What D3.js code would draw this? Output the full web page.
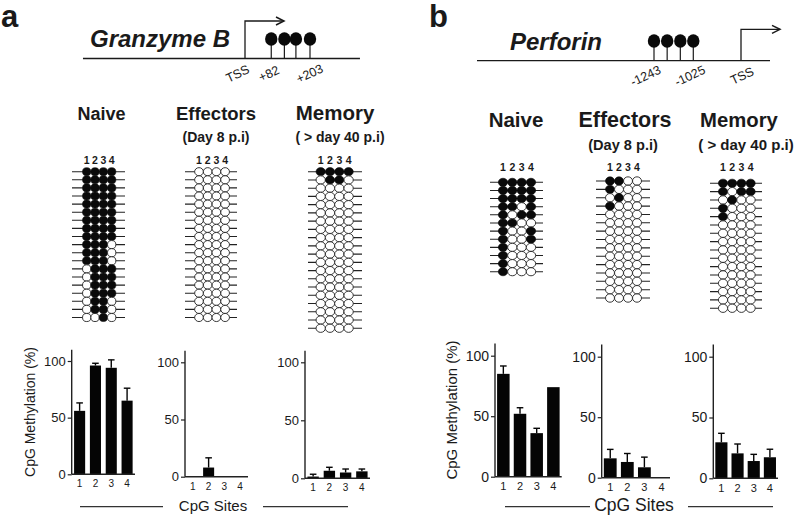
<!DOCTYPE html>
<html><head><meta charset="utf-8">
<script src="https://cdn.jsdelivr.net/npm/d3@7"></script>
<style>
body{margin:0;background:#fff}
svg{display:block}
text{font-family:"Liberation Sans",Arial,Helvetica,sans-serif;fill:#1a1a1a}
</style>
</head><body>
<svg id="c" width="796" height="516"></svg>
<script>
// ---------------- DATA ----------------
const sites = ["1","2","3","4"];
const yTickValues = [0, 50, 100];

// Bar values (% CpG methylation) and error (SEM) per CpG site
const gzmbNaive = [56, 96, 94, 65],   gzmbNaiveErr = [7, 2, 7, 11];
const gzmbEff   = [0, 8, 0, 0],       gzmbEffErr   = [0, 8.5, 0, 0];
const gzmbMem   = [1.5, 6.5, 5, 6],   gzmbMemErr   = [2, 3, 3, 2];
const prfNaive  = [85, 52, 36, 74],   prfNaiveErr  = [6.5, 5, 4, 0];
const prfEff    = [16, 13, 8.6, 0],   prfEffErr    = [7.4, 7, 8.4, 0];
const prfMem    = [29.6, 20.5, 14.2, 17.3], prfMemErr = [7.4, 7.7, 5.5, 6.6];

// Bisulfite clone patterns (1 = methylated, 0 = unmethylated), sites 1..4
const gzmbNaiveRows = ["1111","1111","1111","1111","1111","1111","1111","1111","1111",
  "1110","1110","1110","0111","0111","0111","0111","0110","0110","0010"];
const gzmbEffRows = ["0000","0000","0000","0000","0000","0000","0000","0000","0000","0000",
  "0000","0000","0000","0000","0000","0000","0000","0000","0000"];
const gzmbMemRows = ["1111","0110","0000","0000","0000","0000","0000","0000","0000","0000",
  "0000","0000","0000","0000","0000","0000","0000","0000","0000","0000"];
const prfNaiveRows = ["1111","1111","1111","1101","1011","1100","1001","1001","1000","1000","1000","1000"];
const prfEffRows = ["1100","1000","0100","1000","0000","0000","0000","0000","0000","0000",
  "0000","0000","0000","0000","0000"];
const prfMemRows = ["1111","1011","0100","1000","1000","0000","0000","0000","0000","0000",
  "0000","0000","0000","0000","0000","0000"];

// Gene diagrams (bp relative to TSS)
const gzmbCpgBp = [82, 123, 159, 203];
const gzmbLabels = ["TSS", "+82", "+203"], gzmbLabelBp = [0, 82, 203];
const prfCpgBp = [-1243, -1170, -1097, -1025];
const prfLabels = ["-1243", "-1025", "TSS"], prfLabelBp = [-1243, -1025, 0];

// ---------------- DRAW ----------------
const svg = d3.select("#c");
const INK = "#1a1a1a";

function txt(g, s, x, y, size, opts = {}) {
  return g.append("text").attr("x", x).attr("y", y)
    .attr("font-size", size)
    .attr("font-weight", opts.weight || "normal")
    .attr("font-style", opts.style || "normal")
    .attr("text-anchor", opts.anchor || "middle")
    .text(s);
}

// panel letters
txt(svg, "a", 1, 27, 31, {weight: "bold", anchor: "start"});
txt(svg, "b", 429, 27, 31, {weight: "bold", anchor: "start"});

// gene header
function drawGene(cfg) {
  const g = svg.append("g");
  const x = cfg.scale;
  g.append("line").attr("x1", x(cfg.lineFrom)).attr("x2", x(cfg.lineTo))
    .attr("y1", cfg.lineY).attr("y2", cfg.lineY).attr("stroke", INK).attr("stroke-width", 1.3);
  const tx = x(0);
  g.append("path").attr("d", `M${tx},${cfg.lineY}V${cfg.arrowY}H${tx + 39}`)
    .attr("fill", "none").attr("stroke", INK).attr("stroke-width", 1.3);
  g.append("path").attr("d", `M${tx + 31},${cfg.arrowY - 4}L${tx + 39},${cfg.arrowY}L${tx + 31},${cfg.arrowY + 4}`)
    .attr("fill", "none").attr("stroke", INK).attr("stroke-width", 1.5);
  g.selectAll("line.stem").data(cfg.cpg).enter().append("line")
    .attr("x1", d => x(d)).attr("x2", d => x(d))
    .attr("y1", cfg.popY).attr("y2", cfg.lineY).attr("stroke", INK).attr("stroke-width", 1.2);
  g.selectAll("ellipse").data(cfg.cpg).enter().append("ellipse")
    .attr("cx", d => x(d)).attr("cy", cfg.popY).attr("rx", 6.2).attr("ry", 6.7).attr("fill", "#0a0a0a");
  txt(g, cfg.name, cfg.nameX, cfg.nameY, 24, {weight: "bold", style: "italic", anchor: "start"});
  cfg.labels.forEach((s, i) => {
    const lx = x(cfg.labelBp[i]) + cfg.labelOff[i];
    g.append("text").attr("transform", `translate(${lx},${cfg.lineY + 16}) rotate(-25)`)
      .attr("text-anchor", "middle").attr("dominant-baseline", "middle")
      .attr("font-size", 12.5).text(s);
  });
}

drawGene({
  scale: d3.scaleLinear().domain([0, 203]).range([245, 310]),
  lineFrom: -506, lineTo: 359, lineY: 58.5, arrowY: 21, popY: 39,
  cpg: gzmbCpgBp, name: "Granzyme B", nameX: 90, nameY: 47,
  labels: gzmbLabels, labelBp: gzmbLabelBp, labelOff: [-7, -2, 0]
});
drawGene({
  scale: d3.scaleLinear().domain([-2800, -1243, -1025, 0, 250]).range([477, 654, 693.3, 741, 770]),
  lineFrom: -2800, lineTo: 250, lineY: 60.7, arrowY: 29.3, popY: 41,
  cpg: prfCpgBp, name: "Perforin", nameX: 510, nameY: 50,
  labels: prfLabels, labelBp: prfLabelBp, labelOff: [-8, -3, 1.5]
});

// group titles
function title(t, x, y, fs) { txt(svg, t, x, y, fs, {weight: "bold"}); }
title("Naive", 101.5, 120, 18);
title("Effectors", 216, 120, 18.5);
title("(Day 8 p.i)", 216, 142, 14);
title("Memory", 335, 120, 20.5);
title("( > day 40 p.i)", 340, 142, 14);
title("Naive", 516, 127, 20.5);
title("Effectors", 625, 127, 21.5);
title("(Day 8 p.i)", 623, 150, 14.6);
title("Memory", 739, 127, 20.3);
title("( > day 40 p.i)", 746, 150, 15);

// lollipop grids
function drawGrid(rows, c) {
  const g = svg.append("g");
  const x = d3.scalePoint().domain(sites).range([c.x0, c.x0 + 3 * c.dx]);
  const y = d3.scalePoint().domain(d3.range(rows.length)).range([c.y0, c.y0 + (rows.length - 1) * c.dy]);
  g.selectAll("line").data(rows).enter().append("line")
    .attr("x1", c.l).attr("x2", c.r).attr("y1", (d, i) => y(i)).attr("y2", (d, i) => y(i))
    .attr("stroke", "#222").attr("stroke-width", 1.1);
  const cells = [];
  rows.forEach((r, i) => sites.forEach((s, j) => cells.push({row: i, site: s, m: r[j] === "1"})));
  g.selectAll("ellipse").data(cells).enter().append("ellipse")
    .attr("cx", d => x(d.site)).attr("cy", d => y(d.row))
    .attr("rx", c.dx / 2).attr("ry", c.dy / 2)
    .attr("fill", d => d.m ? "#0a0a0a" : "#fff")
    .attr("stroke", d => d.m ? "#0a0a0a" : "#222")
    .attr("stroke-width", d => d.m ? 0.6 : 0.9);
  g.selectAll("text").data(sites).enter().append("text")
    .attr("x", d => x(d)).attr("y", c.digitY).attr("text-anchor", "middle")
    .attr("font-size", 10.5).attr("font-weight", 600).text(d => d);
}
drawGrid(gzmbNaiveRows, {x0: 86.7, dx: 8.33, y0: 171.7, dy: 8.1, l: 72, r: 125, digitY: 164});
drawGrid(gzmbEffRows,   {x0: 199, dx: 8.7, y0: 171.7, dy: 8.1, l: 185, r: 237, digitY: 164});
drawGrid(gzmbMemRows,   {x0: 320.7, dx: 9.3, y0: 171.7, dy: 8.24, l: 308, r: 362, digitY: 164});
drawGrid(prfNaiveRows,  {x0: 503, dx: 9.33, y0: 182.3, dy: 8.13, l: 490, r: 543, digitY: 171});
drawGrid(prfEffRows,    {x0: 610, dx: 9, y0: 181, dy: 8.36, l: 596, r: 650, digitY: 171});
drawGrid(prfMemRows,    {x0: 723, dx: 9.2, y0: 183.3, dy: 8.33, l: 710, r: 762, digitY: 171});

// bar charts
function drawBars(vals, errs, c) {
  const g = svg.append("g");
  const y = d3.scaleLinear().domain([0, 100]).range([c.y0, c.y100]);
  const x = d3.scaleBand().domain(sites).range([c.ax, c.xr]).paddingInner(c.pi).paddingOuter(c.pi / 2);
  const data = sites.map((s, i) => ({s, v: vals[i], e: errs[i]}));
  g.selectAll("rect").data(data.filter(d => d.v > 0)).enter().append("rect")
    .attr("x", d => x(d.s)).attr("width", x.bandwidth())
    .attr("y", d => y(d.v)).attr("height", d => y(0) - y(d.v)).attr("fill", "#050505");
  const eb = data.filter(d => d.e > 0);
  g.selectAll("line.err").data(eb).enter().append("line")
    .attr("x1", d => x(d.s) + x.bandwidth() / 2).attr("x2", d => x(d.s) + x.bandwidth() / 2)
    .attr("y1", d => y(d.v)).attr("y2", d => y(d.v + d.e)).attr("stroke", "#050505").attr("stroke-width", 1.4);
  g.selectAll("line.cap").data(eb).enter().append("line")
    .attr("x1", d => x(d.s) + x.bandwidth() / 2 - 3.3).attr("x2", d => x(d.s) + x.bandwidth() / 2 + 3.3)
    .attr("y1", d => y(d.v + d.e)).attr("y2", d => y(d.v + d.e)).attr("stroke", "#050505").attr("stroke-width", 1.4);
  g.append("line").attr("x1", c.ax).attr("x2", c.ax).attr("y1", y(0)).attr("y2", y(110))
    .attr("stroke", "#222").attr("stroke-width", 1.4);
  g.append("line").attr("x1", c.ax).attr("x2", c.xr).attr("y1", y(0)).attr("y2", y(0))
    .attr("stroke", "#222").attr("stroke-width", 1.4);
  const ya = g.append("g").attr("transform", `translate(${c.ax},0)`)
    .call(d3.axisLeft(y).tickValues(yTickValues).tickSize(4).tickPadding(2));
  ya.select(".domain").remove();
  ya.selectAll("line").attr("stroke", "#222").attr("stroke-width", 1.2);
  ya.selectAll("text").attr("font-size", c.yfs).attr("font-family", null).attr("fill", INK);
  const xa = g.append("g").attr("transform", `translate(0,${y(0)})`)
    .call(d3.axisBottom(x).tickSize(0).tickPadding(c.xpad));
  xa.select(".domain").remove();
  xa.selectAll("text").attr("font-size", c.xfs).attr("font-family", null).attr("fill", INK);
}
const aCfg = {pi: 0.3, yfs: 13, xfs: 10, xpad: 6};
const bCfg = {pi: 0.25, yfs: 14, xfs: 11, xpad: 6};
drawBars(gzmbNaive, gzmbNaiveErr, {...aCfg, ax: 71.7, y0: 474.3, y100: 361, xr: 135});
drawBars(gzmbEff, gzmbEffErr,     {...aCfg, ax: 185, y0: 476.7, y100: 362.3, xr: 248});
drawBars(gzmbMem, gzmbMemErr,     {...aCfg, ax: 305, y0: 478.3, y100: 362.3, xr: 370});
drawBars(prfNaive, prfNaiveErr,   {...bCfg, ax: 495, y0: 476.7, y100: 355.7, xr: 561.7});
drawBars(prfEff, prfEffErr,       {...bCfg, ax: 601.7, y0: 477.7, y100: 356.7, xr: 670});
drawBars(prfMem, prfMemErr,       {...bCfg, ax: 713.3, y0: 478.3, y100: 356.7, xr: 778});

// y labels
svg.append("text").attr("transform", "translate(35,412) rotate(-90)").attr("text-anchor", "middle")
  .attr("font-size", 14).text("CpG Methylation (%)");
svg.append("text").attr("transform", "translate(457,410) rotate(-90)").attr("text-anchor", "middle")
  .attr("font-size", 15).text("CpG Methylation (%)");

// x label with side rules
function sitesLabel(cx, fs, l1, l2, r1, r2) {
  txt(svg, "CpG Sites", cx, 511, fs);
  [[l1, l2], [r1, r2]].forEach(([a, b]) => svg.append("line").attr("x1", a).attr("x2", b)
    .attr("y1", 506.7).attr("y2", 506.7).attr("stroke", "#333").attr("stroke-width", 1.2));
}
sitesLabel(213, 15, 80, 163, 263, 348);
sitesLabel(634, 17.5, 505, 590, 688, 773);
</script>
</body></html>
